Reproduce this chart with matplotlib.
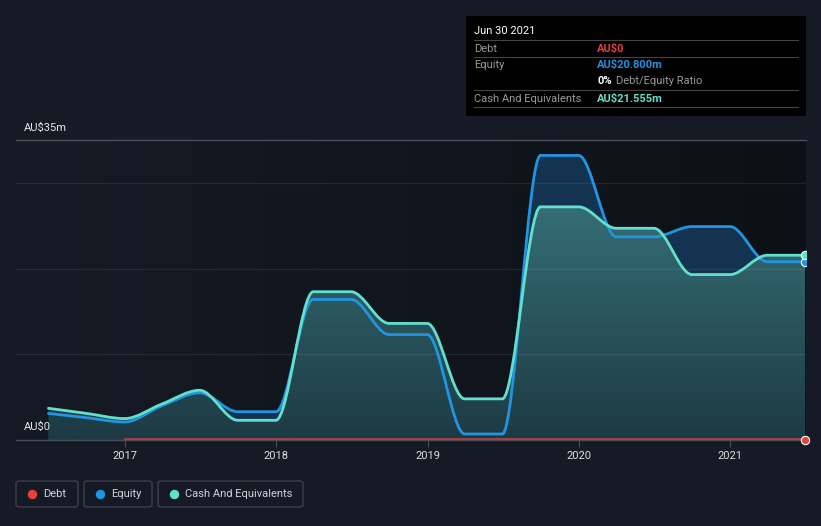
import matplotlib
matplotlib.use("Agg")
import matplotlib.pyplot as plt
import numpy as np
import pandas as pd
from matplotlib.path import Path
from matplotlib.patches import PathPatch, Rectangle, FancyBboxPatch
from matplotlib.lines import Line2D
from matplotlib.colors import LinearSegmentedColormap

plt.rcParams['font.family'] = ['Roboto', 'DejaVu Sans']

# ---- data (AU$ millions), quarterly balance sheet points ----
dates = ['2016-06-30', '2016-09-30', '2016-12-31', '2017-03-31', '2017-06-30',
         '2017-09-30', '2017-12-31', '2018-03-31', '2018-06-30', '2018-09-30',
         '2018-12-31', '2019-03-31', '2019-06-30', '2019-09-30', '2019-12-31',
         '2020-03-31', '2020-06-30', '2020-09-30', '2020-12-31', '2021-03-31',
         '2021-06-30']
equity = [3.1, 2.6, 2.1, 4.0, 5.5, 3.3, 3.3, 16.4, 16.4, 12.3, 12.3, 0.7, 0.7,
          33.2, 33.2, 23.7, 23.7, 24.9, 24.9, 20.8, 20.8]
cash = [3.7, 3.1, 2.5, 4.2, 5.8, 2.3, 2.3, 17.3, 17.3, 13.6, 13.6, 4.8, 4.8,
        27.2, 27.2, 24.7, 24.7, 19.3, 19.3, 21.555, 21.555]
debt_dates = dates[2:]
debt = [0.0] * len(debt_dates)

year_ticks = [2017, 2018, 2019, 2020, 2021]

BG = '#151a24'
C_DEBT = '#e64141'
C_EQ = '#2394df'
C_CASH = '#63e0cb'

W, H = 821, 526


def to_year(s):
    d = pd.Timestamp(s)
    a = pd.Timestamp(d.year, 1, 1)
    b = pd.Timestamp(d.year + 1, 1, 1)
    return d.year + (d - a) / (b - a)


def monotone_verts(x, y):
    # monotone-x cubic curve, drawn as bezier segments
    x = np.asarray(x, float)
    y = np.asarray(y, float)
    n = len(x)
    h = np.diff(x)
    s = np.diff(y) / h
    t = np.zeros(n)
    for i in range(1, n - 1):
        p = (s[i - 1] * h[i] + s[i] * h[i - 1]) / (h[i - 1] + h[i])
        t[i] = (np.sign(s[i - 1]) + np.sign(s[i])) * min(abs(s[i - 1]), abs(s[i]), 0.5 * abs(p))
    t[0] = (3 * s[0] - t[1]) / 2
    t[-1] = (3 * s[-1] - t[-2]) / 2
    verts = [(x[0], y[0])]
    codes = [Path.MOVETO]
    for i in range(n - 1):
        d = h[i] / 3
        verts += [(x[i] + d, y[i] + t[i] * d), (x[i + 1] - d, y[i + 1] - t[i + 1] * d), (x[i + 1], y[i + 1])]
        codes += [Path.CURVE4] * 3
    return verts, codes


def px(x, y):
    return x / W, 1 - y / H


xs = [to_year(d) for d in dates]
xd = [to_year(d) for d in debt_dates]
x_end = xs[-1]

fig = plt.figure(figsize=(8.21, 5.26), dpi=100, facecolor=BG)
ax = fig.add_axes([16 / W, 1 - 440 / H, (805.5 - 16) / W, 300 / H])
ax.set_facecolor(BG)
k = (805.5 - 125) / (x_end + 0.003 - 2017)
xl = (2017 - 109 / k, x_end + 0.003)
ax.set_xlim(*xl)
ax.set_ylim(0, 35)

# background darkening to the right
bg_cmap = LinearSegmentedColormap.from_list('bg', [BG, '#0d1117'])
ax.imshow(np.linspace(0, 1, 256).reshape(1, -1), cmap=bg_cmap, aspect='auto',
          extent=[xl[0], xl[1], 0, 35], zorder=0)

# equity fill
v, c = monotone_verts(xs, equity)
eq_patch = PathPatch(Path(v + [(xs[-1], 0), (xs[0], 0), v[0]], c + [Path.LINETO, Path.LINETO, Path.CLOSEPOLY]),
                     facecolor='#133350', edgecolor='none', zorder=1)
ax.add_patch(eq_patch)

# cash fill with vertical gradient
v2, c2 = monotone_verts(xs, cash)
cash_patch = PathPatch(Path(v2 + [(xs[-1], 0), (xs[0], 0), v2[0]], c2 + [Path.LINETO, Path.LINETO, Path.CLOSEPOLY]),
                       facecolor='none', edgecolor='none', zorder=2)
ax.add_patch(cash_patch)
grad = LinearSegmentedColormap.from_list('cash', ['#1d3a44', '#3c7c83'])
im = ax.imshow(np.linspace(0, 1, 256).reshape(-1, 1), cmap=grad, aspect='auto', origin='lower',
               extent=[xl[0], xl[1], 0, 35], zorder=2)
im.set_clip_path(cash_patch)

# gridlines
for g in [10, 20, 30]:
    ax.axhline(g, color='white', alpha=0.08, lw=0.9, zorder=3)
for g in [0, 35]:
    ax.axhline(g, color='#4b4f57', lw=1.0, zorder=3, clip_on=False)

# lines
ax.add_patch(PathPatch(Path(v, c), facecolor='none', edgecolor=C_EQ, lw=2.0, zorder=4, capstyle='round'))
ax.add_patch(PathPatch(Path(v2, c2), facecolor='none', edgecolor=C_CASH, lw=2.0, zorder=5, capstyle='round'))
ax.plot(xd, [d + 0.08 for d in debt], color=C_DEBT, alpha=0.75, lw=1.3, zorder=6)

# end markers
ax.plot([x_end], [equity[-1]], 'o', ms=6, color=C_EQ, mec='white', mew=0.8, zorder=7)
ax.plot([x_end], [cash[-1]], 'o', ms=6, color=C_CASH, mec='white', mew=0.8, zorder=8)
ax.plot([x_end], [debt[-1]], 'o', ms=6, color=C_DEBT, mec='white', mew=0.8, zorder=8, clip_on=False)

for s in ax.spines.values():
    s.set_visible(False)
ax.set_yticks([])
ax.set_xticks(year_ticks)
ax.set_xticklabels([str(y) for y in year_ticks])
ax.tick_params(axis='x', length=5, width=0.8, color='#4b4f57', labelcolor='#e0e0e0',
               labelsize=8, pad=3)

fig.text(*px(24, 128), 'AU$35m', color='#e8e8e8', fontsize=8, va='center', ha='left')
fig.text(*px(24, 427), 'AU$0', color='#e8e8e8', fontsize=8, va='center', ha='left', zorder=10)

# tooltip box
fig.patches.append(Rectangle(px(466, 116), 340 / W, 100 / H, transform=fig.transFigure,
                             facecolor='black', edgecolor='none', zorder=20))
for yy in [40.3, 57.3, 90.3, 107.3]:
    fig.lines.append(Line2D([474 / W, 798 / W], [1 - yy / H] * 2, transform=fig.transFigure,
                            color='#444444', lw=0.8, zorder=21))
fig.text(*px(474, 31.5), 'Jun 30 2021', color='white', fontsize=8, va='center', zorder=22)
GRAY = '#9a9a9a'
FS = 8
fig.text(*px(474, 48.5), 'Debt', color=GRAY, fontsize=FS, va='center', zorder=22)
fig.text(*px(597, 48.5), 'AU$0', color=C_DEBT, fontsize=FS, va='center', weight='bold', zorder=22)
fig.text(*px(474, 65), 'Equity', color=GRAY, fontsize=FS, va='center', zorder=22)
fig.text(*px(597, 65), 'AU$20.800m', color=C_EQ, fontsize=FS, va='center', weight='bold', zorder=22)
fig.text(*px(597, 81.5), '0%', color='white', fontsize=FS, va='center', weight='bold', zorder=22)
fig.text(*px(615.5, 81.5), 'Debt/Equity Ratio', color=GRAY, fontsize=FS, va='center', zorder=22)
fig.text(*px(474, 98.5), 'Cash And Equivalents', color=GRAY, fontsize=FS, va='center', zorder=22)
fig.text(*px(597, 98.5), 'AU$21.555m', color=C_CASH, fontsize=FS, va='center', weight='bold', zorder=22)

# legend
legend_items = [('Debt', C_DEBT, 16, 78), ('Equity', C_EQ, 84, 152), ('Cash And Equivalents', C_CASH, 158, 303)]
for label, col, x0, x1 in legend_items:
    fig.patches.append(FancyBboxPatch(px(x0, 507), (x1 - x0) / W, 26 / H, transform=fig.transFigure,
                                      boxstyle='round,pad=0,rounding_size=0.004',
                                      facecolor='none', edgecolor='#3b404a', lw=1.0))
    fig.lines.append(Line2D([(x0 + 16) / W], [1 - 494 / H], transform=fig.transFigure, marker='o',
                            ms=5.8, color=col, ls='none'))
    fig.text(*px(x0 + 27, 494), label, color='#d0d3d8', fontsize=8, va='center')

fig.savefig('out.png', dpi=100, facecolor=BG)
